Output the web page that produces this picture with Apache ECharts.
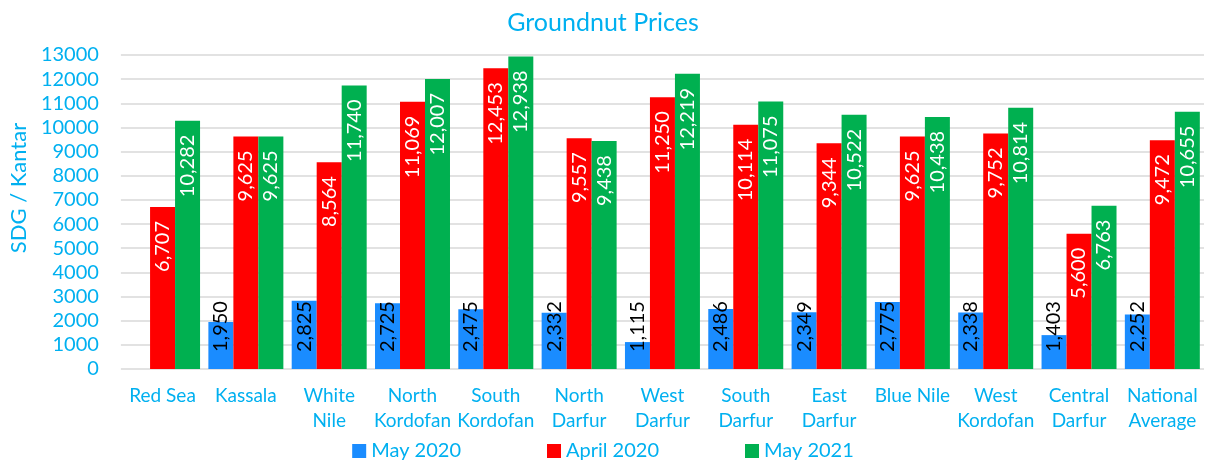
<!DOCTYPE html>
<html>
<head>
<meta charset="utf-8">
<script src="https://cdn.jsdelivr.net/npm/echarts@6/dist/echarts.min.js"></script>
<style>html,body{margin:0;padding:0;background:#fff}#c{width:1206px;height:466px}</style>
</head>
<body>
<div id="c"></div>
<script>
const categories = ['Red Sea','Kassala','White\nNile','North\nKordofan','South\nKordofan','North\nDarfur','West\nDarfur','South\nDarfur','East\nDarfur','Blue Nile','West\nKordofan','Central\nDarfur','National\nAverage'];
const may2020 = [null,1950,2825,2725,2475,2332,1115,2486,2349,2775,2338,1403,2252];
const april2020 = [6707,9625,8564,11069,12453,9557,11250,10114,9344,9625,9752,5600,9472];
const may2021 = [10282,9625,11740,12007,12938,9438,12219,11075,10522,10438,10814,6763,10655];
const seriesNames = ['May 2020','April 2020','May 2021'];

const FONT = 'Lato, "Open Sans", sans-serif';
const TXT = '#00b0f0';
const fmt = p => p.value == null ? '' : Number(p.value).toLocaleString('en-US');

const chart = echarts.init(document.getElementById('c'));
chart.setOption({
  animation: false,
  title: {
    text: 'Groundnut Prices', left: 'center', top: 5,
    textStyle: { color: TXT, fontSize: 25, fontWeight: 'normal', fontFamily: FONT }
  },
  legend: {
    bottom: 0, left: 'center', itemGap: 86, itemWidth: 14, itemHeight: 14, icon: 'rect',
    textStyle: { color: TXT, fontSize: 20, fontFamily: FONT },
    data: seriesNames
  },
  grid: { left: 98, right: 2, top: 55, bottom: 97 },
  xAxis: {
    type: 'category', data: categories,
    axisLine: { show: false }, axisTick: { show: false },
    axisLabel: { color: TXT, fontSize: 19, fontFamily: FONT, lineHeight: 25, margin: 14, interval: 0 }
  },
  yAxis: {
    type: 'value', min: 0, max: 13000, interval: 1000,
    name: 'SDG / Kantar', nameLocation: 'middle', nameGap: 71,
    nameTextStyle: { color: TXT, fontSize: 22, fontFamily: FONT, padding: [0, 0, 0, 48] },
    axisLabel: { color: TXT, fontSize: 20, fontFamily: FONT, margin: 22, formatter: v => String(v) },
    splitLine: { lineStyle: { color: '#d9d9d9', width: 1.5 } }
  },
  series: [
    {
      name: seriesNames[0], type: 'bar', data: may2020, barGap: '0%', barCategoryGap: '10%',
      itemStyle: { color: '#1a8cff' },
      label: { show: true, position: 'insideBottom', distance: 17, rotate: 90, align: 'left', verticalAlign: 'middle',
               color: '#000', fontSize: 20, fontFamily: FONT, formatter: fmt }
    },
    {
      name: seriesNames[1], type: 'bar', data: april2020, barGap: '0%', barCategoryGap: '10%',
      itemStyle: { color: '#ff0000' },
      label: { show: true, position: 'insideTop', distance: 14, rotate: 90, align: 'right', verticalAlign: 'middle',
               color: '#fff', fontSize: 20, fontFamily: FONT, formatter: fmt }
    },
    {
      name: seriesNames[2], type: 'bar', data: may2021, barGap: '0%', barCategoryGap: '10%',
      itemStyle: { color: '#00b050' },
      label: { show: true, position: 'insideTop', distance: 14, rotate: 90, align: 'right', verticalAlign: 'middle',
               color: '#fff', fontSize: 20, fontFamily: FONT, formatter: fmt }
    }
  ]
});
</script>
</body>
</html>
